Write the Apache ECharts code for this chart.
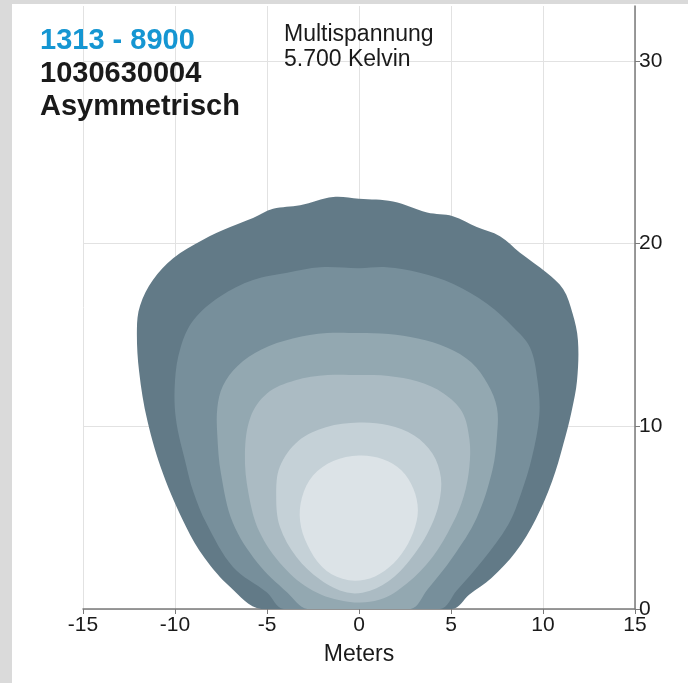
<!DOCTYPE html>
<html>
<head>
<meta charset="utf-8">
<script src="https://cdn.jsdelivr.net/npm/echarts@6/dist/echarts.min.js"></script>
<style>
  html, body { margin: 0; padding: 0; background: #fff; }
  #chart { width: 688px; height: 683px; }
</style>
</head>
<body>
<div id="chart"></div>
<script>
// isolux contours, outermost first: [meters across, meters ahead]
const contour1 = [[-5.3,0],[-7.0,1.2],[-8.4,2.8],[-9.4,4.5],[-10.65,7.4],[-11.5,10.3],[-11.95,13],[-12.07,15.3],[-11.9,16.6],[-11.2,18.0],[-10.1,19.2],[-8.5,20.2],[-7.0,20.9],[-5.76,21.4],[-4.67,21.9],[-3.2,22.1],[-1.4,22.55],[0,22.45],[1.85,22.3],[3.7,21.7],[5.1,21.5],[6.4,20.9],[7.66,20.4],[8.75,19.5],[10.2,18.4],[11.1,17.5],[11.6,16.2],[11.9,14.7],[11.85,12.5],[11.55,10.8],[11.1,9.0],[10.5,7.0],[9.6,4.9],[8.5,3.1],[7.2,1.7],[6.0,0.8],[5.05,0]];
const contour2 = [[-4.1,0],[-5.0,0.9],[-6.85,2.3],[-8.3,4.7],[-9.0,6.4],[-9.4,7.9],[-9.95,10.4],[-10.0,12.5],[-9.7,14.3],[-9.0,15.8],[-7.55,17.1],[-5.76,18.0],[-3.9,18.4],[-2.1,18.7],[0,18.65],[1.5,18.7],[3.3,18.4],[5.1,17.8],[6.96,16.7],[8.4,15.4],[9.3,14.3],[9.7,12.5],[9.8,10.6],[9.4,8.3],[8.8,6.3],[8.1,4.6],[6.75,2.7],[5.3,1.0],[4.4,0]];
const contour3 = [[-2.8,0],[-3.9,0.9],[-5.5,2.5],[-6.85,4.7],[-7.5,7.4],[-7.7,9.5],[-7.7,11.0],[-7.4,12.2],[-6.6,13.3],[-5.3,14.2],[-3.6,14.8],[-1.74,15.1],[0,15.1],[1.6,15.05],[3.2,14.8],[4.8,14.3],[6.1,13.5],[7.0,12.3],[7.5,11.0],[7.5,9.5],[7.25,7.6],[6.4,5.0],[5.1,2.85],[3.7,1.04],[2.8,0]];
const contour4 = [[0,12.8],[1.6,12.75],[3.2,12.45],[4.6,11.8],[5.6,10.8],[6.0,9.3],[6.0,7.8],[5.7,6.2],[5.1,4.7],[4.0,2.85],[2.6,1.4],[1.1,0.5],[-0.6,0.4],[-2.5,1.0],[-4.1,2.3],[-5.4,4.2],[-6.0,6.3],[-6.2,8.5],[-5.9,10.5],[-5.0,11.8],[-3.5,12.5],[-1.7,12.8]];
const contour5 = [[0,10.2],[1.6,10.05],[3.0,9.5],[4.0,8.5],[4.45,7.2],[4.35,5.8],[3.9,4.5],[3.15,3.2],[1.9,1.75],[0.6,1.0],[-0.65,0.9],[-2.1,1.6],[-3.4,2.85],[-4.3,4.5],[-4.5,6.2],[-4.3,7.8],[-3.3,9.2],[-1.8,9.95]];
const contour6 = [[0,8.4],[1.3,8.2],[2.3,7.6],[2.95,6.6],[3.2,5.4],[2.95,4.2],[2.3,3.0],[1.4,2.1],[0.3,1.6],[-0.9,1.65],[-2.0,2.3],[-2.8,3.5],[-3.2,4.8],[-3.1,6.1],[-2.5,7.3],[-1.4,8.1]];

const contours = [contour1, contour2, contour3, contour4, contour5, contour6];
const levelColors = ['#627a87', '#778f9b', '#93a8b1', '#abbbc3', '#c5d1d7', '#dce3e7'];

const xTicks = [-15, -10, -5, 0, 5, 10, 15];
const yTicks = [0, 10, 20, 30];
const yMax = 33;

const FONT = '"Liberation Sans", Arial, sans-serif';

function contourSeries(points, color) {
    return {
        type: 'custom',
        coordinateSystem: 'cartesian2d',
        clip: true,
        silent: true,
        data: [points[0]],
        renderItem: function (params, api) {
            return {
                type: 'polygon',
                shape: { points: points.map(p => api.coord(p)), smooth: 0.35 },
                style: { fill: color }
            };
        }
    };
}

const chart = echarts.init(document.getElementById('chart'), null, { renderer: 'canvas' });

chart.setOption({
    animation: false,
    backgroundColor: '#fff',
    grid: { left: 83, right: 53, top: 6, bottom: 74 },
    xAxis: {
        type: 'value',
        min: xTicks[0],
        max: xTicks[xTicks.length - 1],
        interval: 5,
        name: 'Meters',
        nameLocation: 'middle',
        nameGap: 34,
        nameTextStyle: { fontFamily: FONT, fontSize: 23, color: '#1a1a1a' },
        axisLine: { show: true, lineStyle: { color: '#7a7a7a', width: 1.5 } },
        axisTick: { show: true, length: 5, lineStyle: { color: '#7a7a7a' } },
        axisLabel: { fontFamily: FONT, fontSize: 21, color: '#1a1a1a', margin: 6 },
        splitLine: { show: true, lineStyle: { color: '#e2e2e2', width: 1 } }
    },
    yAxis: {
        type: 'value',
        position: 'right',
        min: yTicks[0],
        max: yMax,
        interval: 10,
        axisLine: { show: true, onZero: false, lineStyle: { color: '#7a7a7a', width: 1.5 } },
        axisTick: { show: true, length: 5, customValues: yTicks, lineStyle: { color: '#7a7a7a' } },
        axisLabel: {
            fontFamily: FONT, fontSize: 21, color: '#1a1a1a', margin: 4,
            customValues: yTicks
        },
        splitLine: {
            show: true,
            lineStyle: { color: ['#e2e2e2', '#e2e2e2', '#e2e2e2', '#e2e2e2', 'rgba(0,0,0,0)'], width: 1 }
        }
    },
    graphic: [
        // grey frame
        { type: 'rect', left: 0, top: 0, shape: { width: 12, height: 683 }, style: { fill: '#dadada' }, silent: true },
        { type: 'rect', left: 0, top: 0, shape: { width: 688, height: 4 }, style: { fill: '#dadada' }, silent: true },
        { type: 'text', z: 100, left: 40, top: 26, style: { text: '1313 - 8900', font: 'bold 29px ' + FONT, fill: '#1596d2' } },
        { type: 'text', z: 100, left: 40, top: 59, style: { text: '1030630004', font: 'bold 29px ' + FONT, fill: '#1a1a1a' } },
        { type: 'text', z: 100, left: 40, top: 92, style: { text: 'Asymmetrisch', font: 'bold 29px ' + FONT, fill: '#1a1a1a' } },
        { type: 'text', z: 100, left: 284, top: 23, style: { text: 'Multispannung', font: '23px ' + FONT, fill: '#1a1a1a' } },
        { type: 'text', z: 100, left: 284, top: 48, style: { text: '5.700 Kelvin', font: '23px ' + FONT, fill: '#1a1a1a' } }
    ],
    series: contours.map((c, i) => contourSeries(c, levelColors[i]))
});
</script>
</body>
</html>
